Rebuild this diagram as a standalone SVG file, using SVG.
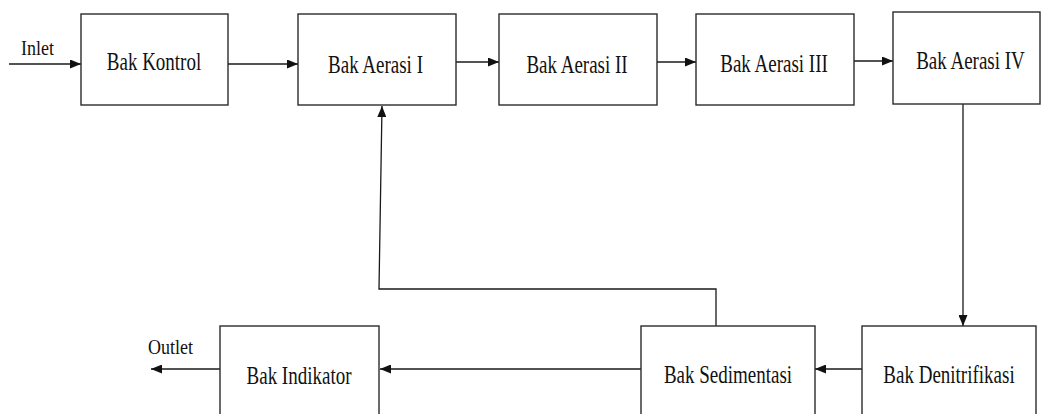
<svg xmlns="http://www.w3.org/2000/svg" width="1041" height="414" viewBox="0 0 1041 414">
  <style>
    .box { fill: #ffffff; stroke: #2b2b2b; stroke-width: 1.4; }
    .lbl { font-family: 'Liberation Serif', serif; font-size: 19px; fill: #111111; text-anchor: middle; }
    .tag { font-family: 'Liberation Serif', serif; font-size: 18px; fill: #111111; }
    .wire { fill: none; stroke: #1a1a1a; stroke-width: 1.3; }
  </style>
  <defs>
    <marker id="arrow" viewBox="0 0 11 9" refX="11" refY="4.5" markerWidth="11" markerHeight="9" markerUnits="userSpaceOnUse" orient="auto">
      <path d="M0,0 L11,4.5 L0,9 Z" fill="#111111"/>
    </marker>
  </defs>
  <rect width="1041" height="414" fill="#ffffff"/>

  <g id="connectors">
    <line class="wire" x1="9" y1="64" x2="81" y2="64" marker-end="url(#arrow)"/>
    <line class="wire" x1="228" y1="64" x2="298" y2="64" marker-end="url(#arrow)"/>
    <line class="wire" x1="456" y1="62" x2="499" y2="62" marker-end="url(#arrow)"/>
    <line class="wire" x1="655" y1="62" x2="696" y2="62" marker-end="url(#arrow)"/>
    <line class="wire" x1="851" y1="61" x2="893" y2="61" marker-end="url(#arrow)"/>
    <line class="wire" x1="963" y1="104" x2="963" y2="326" marker-end="url(#arrow)"/>
    <line class="wire" x1="862" y1="369" x2="815" y2="369" marker-end="url(#arrow)"/>
    <line class="wire" x1="641" y1="369" x2="380" y2="369" marker-end="url(#arrow)"/>
    <line class="wire" x1="220" y1="369" x2="151" y2="369" marker-end="url(#arrow)"/>
    <polyline class="wire" points="716,326 716,289 379,289 382,106" marker-end="url(#arrow)"/>
  </g>

  <text class="tag" font-family="Liberation Serif" transform="translate(21,55) scale(1,1.2)">Inlet</text>
  <text class="tag" font-family="Liberation Serif" transform="translate(148,354) scale(1,1.2)">Outlet</text>

  <g id="bak-kontrol">
    <rect class="box" x="81" y="14" width="147" height="91"/>
    <text class="lbl" transform="translate(154,70) scale(1,1.28)">Bak Kontrol</text>
  </g>
  <g id="bak-aerasi-1">
    <rect class="box" x="298" y="14" width="158" height="91"/>
    <text class="lbl" transform="translate(375.5,73) scale(1,1.28)">Bak Aerasi I</text>
  </g>
  <g id="bak-aerasi-2">
    <rect class="box" x="499" y="14" width="158" height="91"/>
    <text class="lbl" transform="translate(577,73) scale(1,1.28)">Bak Aerasi II</text>
  </g>
  <g id="bak-aerasi-3">
    <rect class="box" x="696" y="14" width="158" height="91"/>
    <text class="lbl" transform="translate(774,72) scale(1,1.28)">Bak Aerasi III</text>
  </g>
  <g id="bak-aerasi-4">
    <rect class="box" x="893" y="12" width="147" height="92"/>
    <text class="lbl" transform="translate(970.5,69) scale(1,1.28)">Bak Aerasi IV</text>
  </g>
  <g id="bak-denitrifikasi">
    <rect class="box" x="862" y="326" width="174" height="100"/>
    <text class="lbl" transform="translate(949,383) scale(1,1.28)">Bak Denitrifikasi</text>
  </g>
  <g id="bak-sedimentasi">
    <rect class="box" x="641" y="326" width="174" height="100"/>
    <text class="lbl" transform="translate(728,383) scale(1,1.28)">Bak Sedimentasi</text>
  </g>
  <g id="bak-indikator">
    <rect class="box" x="220" y="326" width="159" height="100"/>
    <text class="lbl" transform="translate(299,384) scale(1,1.28)">Bak Indikator</text>
  </g>
</svg>
